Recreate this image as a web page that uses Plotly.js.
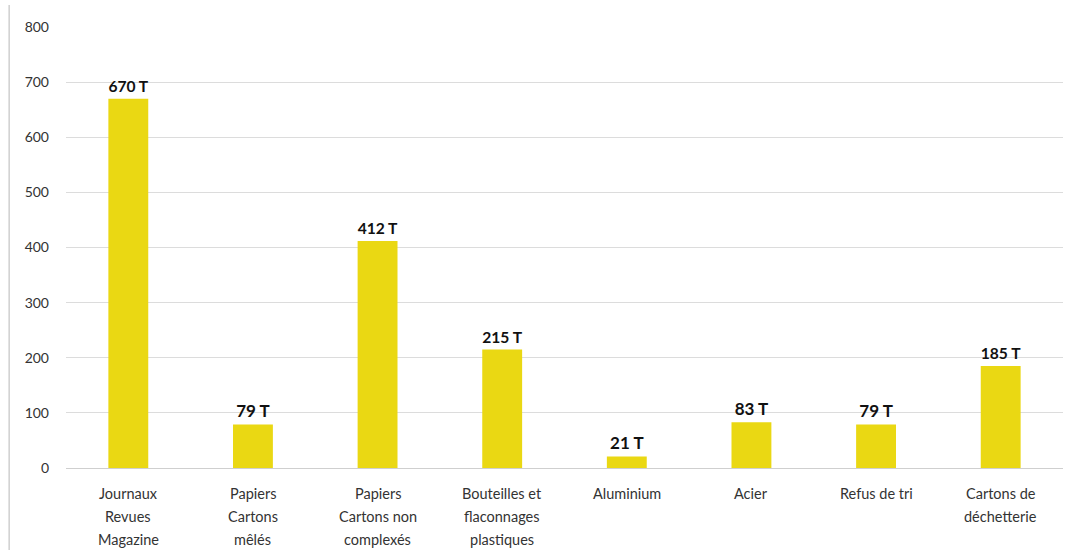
<!DOCTYPE html>
<html>
<head>
<meta charset="utf-8">
<script src="https://cdn.plot.ly/plotly-3.0.1.min.js"></script>
<style>html,body{margin:0;padding:0;background:#fff;}#chart{width:1078px;height:550px;}</style>
</head>
<body>
<div id="chart"></div>
<script>
var categories = ["Journaux Revues Magazine", "Papiers Cartons mêlés", "Papiers Cartons non complexés", "Bouteilles et flaconnages plastiques", "Aluminium", "Acier", "Refus de tri", "Cartons de déchetterie"];
var categoryLines = [["Journaux", "Revues", "Magazine"], ["Papiers", "Cartons", "mêlés"], ["Papiers", "Cartons non", "complexés"], ["Bouteilles et", "flaconnages", "plastiques"], ["Aluminium"], ["Acier"], ["Refus de tri"], ["Cartons de", "déchetterie"]];
var tonnages = [670, 79, 412, 215, 21, 83, 79, 185];
var labels = ["670 T", "79 T", "412 T", "215 T", "21 T", "83 T", "79 T", "185 T"];
var yTicks = [0, 100, 200, 300, 400, 500, 600, 700, 800];

var trace = {
  type: "bar",
  x: categories,
  y: tonnages,
  text: labels,
  textposition: "outside",
  cliponaxis: false,
  textfont: {family: "Lato, 'Open Sans', sans-serif", size: 17, color: "#111", weight: "bold"},
  marker: {color: "#EAD813"},
  hoverinfo: "none"
};

var annotations = [];
categoryLines.forEach(function (lines, i) {
  lines.forEach(function (line, j) {
    annotations.push({
      x: categories[i], y: 0, xref: "x", yref: "y",
      text: line, showarrow: false,
      xanchor: "center", yanchor: "middle",
      yshift: -(25 + 23 * j),
      font: {family: "Lato, 'Open Sans', sans-serif", size: 14.5, color: "#333"}
    });
  });
});

var layout = {
  width: 1078, height: 550,
  margin: {l: 66, r: 15, t: 27, b: 82},
  paper_bgcolor: "#fff", plot_bgcolor: "#fff",
  bargap: 0.68,
  showlegend: false,
  font: {family: "Lato, 'Open Sans', sans-serif", size: 13, color: "#333"},
  xaxis: {
    type: "category",
    showticklabels: false,
    showgrid: false, zeroline: false, showline: false, ticks: "",
    automargin: false
  },
  yaxis: {
    range: [0, 800],
    tickvals: yTicks,
    ticktext: yTicks.map(String),
    showgrid: true, gridcolor: "#dcdcdc", gridwidth: 1,
    zeroline: true, zerolinecolor: "#cfcfcf",
    showline: false, ticks: "",
    ticklabelstandoff: 16,
    tickfont: {size: 14, color: "#333"},
    automargin: false
  },
  annotations: annotations,
  shapes: [
    {type: "line", xref: "paper", yref: "paper", x0: -0.057, x1: -0.057, y0: -0.2, y1: 1.05, line: {color: "#cfcfcf", width: 1.5}}
  ]
};

Plotly.newPlot("chart", [trace], layout, {displayModeBar: false, staticPlot: true});
</script>
</body>
</html>
